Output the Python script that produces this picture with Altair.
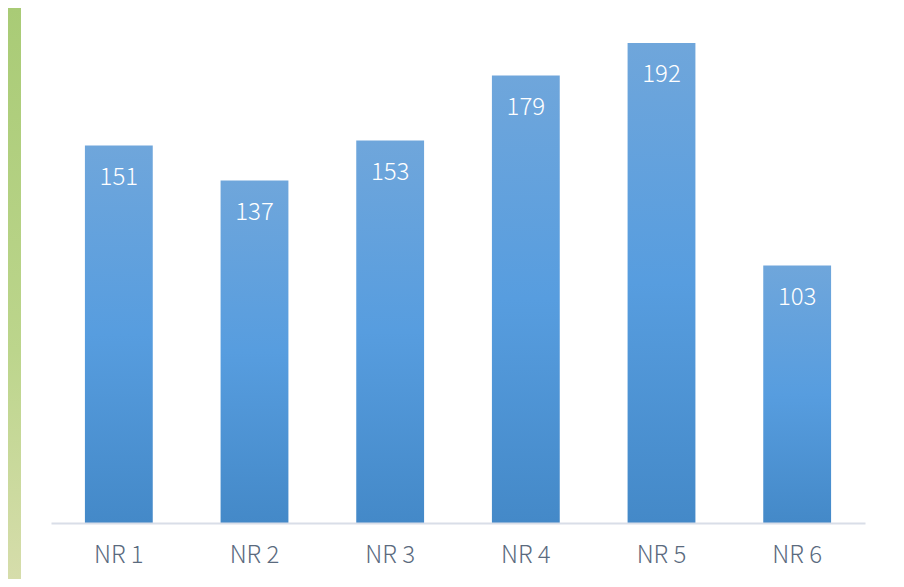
import altair as alt
import pandas as pd

categories = ["NR 1", "NR 2", "NR 3", "NR 4", "NR 5", "NR 6"]
values = [151, 137, 153, 179, 192, 103]

df = pd.DataFrame({"cat": categories, "val": values})

W, H = 814, 500
FONT = "Noto Sans CJK JP"

x = alt.X("cat:N", sort=categories,
          scale=alt.Scale(paddingInner=0.5, paddingOuter=0.25),
          axis=alt.Axis(title=None, labelAngle=0, labelFontSize=24, labelColor="#5a6a7e",
                        labelFont=FONT, labelFontWeight=300, labelPadding=20, ticks=False,
                        domainColor="#d9dee8", domainWidth=2, zindex=1))
y = alt.Y("val:Q", scale=alt.Scale(domain=[0, 200], nice=False),
          axis=None)

bg = alt.Chart(df).mark_rect(
    clip=False,
    color=alt.Gradient(gradient="linear", x1=0, y1=0, x2=0, y2=1,
                       stops=[alt.GradientStop(color="#a9cb76", offset=0),
                              alt.GradientStop(color="#bcd58c", offset=0.6),
                              alt.GradientStop(color="#d6ddab", offset=1)])
).encode(x=alt.value(-43), x2=alt.value(W + 31), y=alt.value(-15), y2=alt.value(H + 56))

panel = alt.Chart(df).mark_rect(clip=False, color="white").encode(
    x=alt.value(-30), x2=alt.value(W + 31), y=alt.value(-15), y2=alt.value(H + 56))

bars = alt.Chart(df).mark_bar(
    color=alt.Gradient(gradient="linear", x1=0, y1=0, x2=0, y2=1,
                       stops=[alt.GradientStop(color="#6fa6db", offset=0),
                              alt.GradientStop(color="#579ddf", offset=0.5),
                              alt.GradientStop(color="#4489c8", offset=1)])
).encode(x=x, y=y)

labels = alt.Chart(df).mark_text(
    color="white", fontSize=24, font=FONT, fontWeight=300, baseline="middle", dy=32
).encode(x=alt.X("cat:N", sort=categories), y=alt.Y("val:Q"), text="val:Q")

chart = alt.layer(bg, panel, bars, labels).properties(
    width=W, height=H,
    autosize=alt.AutoSizeParams(type="none"),
    padding={"left": 43, "top": 15, "right": 31, "bottom": 56},
).configure_view(stroke=None).configure(background="#a9cb76")

chart.save("out.html", embed_options={"renderer": "svg", "actions": False})
